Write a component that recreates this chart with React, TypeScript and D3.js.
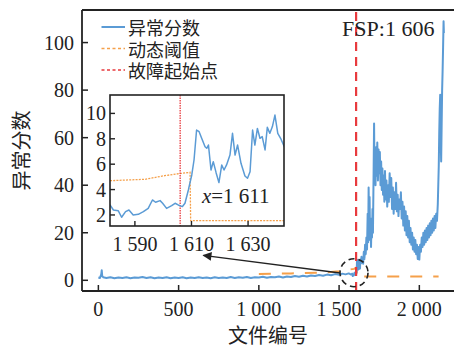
import React from "react";
import * as d3 from "d3";

const W = 454;
const H = 347;
const SERIF = "'Liberation Serif', 'Times New Roman', serif";
const CJK = "'Noto Sans CJK SC', 'Noto Sans CJK JP', sans-serif";

const BLUE = "#5b9bd5";
const ORANGE = "#f5a04a";
const RED = "#e83a3e";
const INK = "#222";

// anomaly score (file index, score)
const preFiles = [0, 10, 18, 21, 24, 30, 50, 75, 100, 125, 150, 175, 200, 225, 250, 275, 300, 325, 350, 375, 400, 425, 450, 475, 500, 525, 550, 575, 600, 625, 650, 675, 700, 725, 750, 775, 800, 825, 850, 875, 900, 925, 950, 975, 1000, 1025, 1050, 1075, 1100, 1125, 1150, 1175, 1200, 1225, 1250, 1275, 1300, 1325, 1350, 1375, 1400, 1425, 1450, 1475, 1500, 1520, 1540, 1560, 1575];
const preScores = [1.2, 1.0, 2.5, 4.2, 1.8, 1.3, 1.0, 1.3, 0.9, 1.2, 1.0, 1.3, 0.9, 1.2, 1.1, 1.4, 1.0, 1.3, 0.9, 1.2, 1.0, 1.3, 0.9, 1.2, 1.0, 1.3, 0.9, 1.2, 1.0, 1.3, 1.0, 1.2, 0.9, 1.3, 1.0, 1.2, 1.0, 1.4, 1.0, 1.3, 1.1, 1.4, 1.0, 1.3, 1.2, 1.5, 1.1, 1.4, 1.3, 1.6, 1.2, 1.6, 1.4, 1.8, 1.5, 1.9, 1.6, 2.0, 1.8, 2.2, 1.9, 2.4, 2.1, 2.6, 2.3, 2.8, 2.5, 2.9, 2.4];

const zoomFiles = [1581.2, 1582.4, 1584.1, 1585.3, 1586.7, 1587.9, 1589.4, 1591.2, 1593.0, 1594.7, 1596.2, 1597.3, 1598.9, 1599.8, 1601.2, 1603.0, 1604.2, 1605.3, 1606.8, 1607.7, 1608.9, 1610.1, 1610.9, 1611.8, 1612.7, 1613.6, 1614.8, 1615.4, 1616.0, 1616.9, 1617.7, 1618.7, 1619.7, 1620.7, 1621.5, 1622.4, 1623.6, 1624.5, 1625.4, 1626.3, 1627.5, 1628.9, 1629.8, 1630.7, 1631.6, 1632.4, 1633.3, 1634.2, 1635.0, 1636.0, 1636.8, 1637.7, 1638.6, 1639.5, 1640.5, 1641.5, 1642.8];
const zoomScores = [2.79, 2.39, 2.34, 1.82, 2.26, 2.39, 2.0, 2.05, 2.26, 2.52, 3.18, 3.0, 3.13, 2.92, 2.52, 2.73, 2.92, 2.79, 2.66, 2.92, 3.97, 5.15, 6.33, 8.69, 8.56, 8.04, 7.38, 7.25, 7.51, 5.54, 6.2, 5.33, 4.55, 5.94, 5.54, 5.94, 6.72, 8.43, 6.72, 7.51, 6.07, 5.07, 4.89, 5.41, 8.69, 7.51, 8.82, 8.04, 8.17, 7.12, 8.9, 8.43, 8.96, 9.87, 8.43, 8.04, 7.38];

const postFiles = [1646, 1650, 1654, 1658, 1662, 1666, 1670, 1674, 1678, 1681, 1684, 1687, 1690, 1693, 1696, 1699, 1702, 1705, 1708, 1711, 1715, 1718, 1721, 1724, 1727, 1730, 1734, 1738, 1742, 1746, 1750, 1754, 1758, 1762, 1766, 1770, 1774, 1778, 1782, 1786, 1790, 1795, 1800, 1805, 1810, 1815, 1820, 1825, 1830, 1835, 1840, 1845, 1850, 1855, 1860, 1865, 1870, 1875, 1880, 1885, 1890, 1895, 1900, 1905, 1910, 1915, 1920, 1925, 1930, 1935, 1940, 1945, 1950, 1955, 1960, 1965, 1970, 1975, 1980, 1985, 1990, 1995, 2000, 2005, 2010, 2015, 2020, 2025, 2030, 2035, 2040, 2045, 2050, 2055, 2060, 2065, 2070, 2075, 2080, 2085, 2090, 2095, 2100, 2105, 2110, 2115, 2118, 2121, 2124, 2127, 2130, 2133, 2136, 2139, 2142, 2145, 2148, 2151, 2153];
const postScores = [9.5, 7.0, 12, 9, 15, 11, 18, 13, 28, 16, 39, 22, 35, 17, 26, 14, 24, 18, 30, 20, 45, 66, 42, 52, 40, 56, 44, 58, 42, 55, 45, 54, 40, 50, 38, 47, 36, 44, 33, 46, 34, 42, 31, 40, 33, 45, 35, 43, 30, 39, 28, 37, 30, 41, 29, 36, 27, 34, 30, 37, 26, 33, 23, 31, 21, 29, 19, 27, 18, 25, 16, 22, 15, 20, 13, 18, 12, 17, 11, 15, 9, 14, 8.7, 15, 12, 18, 14, 20, 15, 21, 16, 22, 17, 23, 18, 24, 19, 25, 20, 26, 21, 27, 22, 28, 25, 32, 40, 48, 62, 72, 78, 60, 50, 65, 80, 88, 98, 109, 104];

// dynamic threshold
const thrFiles = [1000, 1200, 1400, 1500, 1581.2, 1593.6, 1600.6, 1606.5, 1609.5, 1609.7, 2120];
const thrValues = [2.7, 2.9, 3.2, 3.8, 4.7, 4.81, 5.1, 5.28, 5.36, 1.55, 1.55];

const faultStart = 1606;
const detectPoint = 1611;

const xTicks = [0, 500, 1000, 1500, 2000];
const xTickLabels = ["0", "500", "1 000", "1 500", "2 000"];
const yTicks = [0, 20, 40, 60, 80, 100];
const insetXTicks = [1590, 1610, 1630];
const insetXTickLabels = ["1 590", "1 610", "1 630"];
const insetYTicks = [2, 4, 6, 8, 10];
const legendLabels = ["异常分数", "动态阈值", "故障起始点"];

// annotation anchors in data units
const circleAt: [number, number] = [1593, 3.2];
const arrowFrom: [number, number] = [1506, 3.1];
const arrowTo: [number, number] = [654, 10.5];

const plot = { left: 82, right: 456, top: 10, bottom: 291 };
const inset = { left: 110, right: 284, top: 95, bottom: 226 };

const App = () => {
  const x = d3.scaleLinear().domain([-102, 2216]).range([plot.left, plot.left + 372]);
  const y = d3.scaleLinear().domain([-4.5, 113.7]).range([plot.bottom, plot.top]);
  const ix = d3.scaleLinear().domain([1581.2, 1642.7]).range([inset.left, inset.right]);
  const iy = d3.scaleLinear().domain([1.13, 11.45]).range([inset.bottom, inset.top]);

  const files = [...preFiles, ...zoomFiles, ...postFiles];
  const scores = [...preScores, ...zoomScores, ...postScores];
  const series = files.map((f, i) => [f, scores[i]] as [number, number]);
  const thr = thrFiles.map((f, i) => [f, thrValues[i]] as [number, number]);

  const line = d3.line<[number, number]>().x((d) => x(d[0])).y((d) => y(d[1]));
  const iline = d3.line<[number, number]>().x((d) => ix(d[0])).y((d) => iy(d[1]));
  const insetSeries = series.filter((d) => d[0] >= 1575 && d[0] <= 1650);

  const legendColors = [BLUE, ORANGE, RED];
  const legendDash = [undefined, "3 2.5", "3 2.5"];

  return (
    <svg width={W} height={H} viewBox={`0 0 ${W} ${H}`}
      style={{ position: "fixed", left: 0, top: 0, background: "#fff" }}>
      <defs>
        <clipPath id="main-clip">
          <rect x={plot.left} y={plot.top} width={plot.right - plot.left} height={plot.bottom - plot.top} />
        </clipPath>
        <clipPath id="inset-clip">
          <rect x={inset.left} y={inset.top} width={inset.right - inset.left} height={inset.bottom - inset.top} />
        </clipPath>
        <marker id="arrowhead" viewBox="0 0 10 10" refX="9" refY="5" markerWidth="13" markerHeight="9"
          markerUnits="userSpaceOnUse" orient="auto">
          <path d="M0,0 L10,5 L0,10 Z" fill={INK} />
        </marker>
      </defs>

      {/* main series */}
      <g clipPath="url(#main-clip)">
        <path d={line(thr) ?? ""} fill="none" stroke={ORANGE} strokeWidth={2} strokeDasharray="12 11" />
        <path d={line(series) ?? ""} fill="none" stroke={BLUE} strokeWidth={2} strokeLinejoin="round" />
        <line x1={x(faultStart)} x2={x(faultStart)} y1={plot.bottom} y2={plot.top}
          stroke={RED} strokeWidth={2.2} strokeDasharray="9 6" />
      </g>

      {/* frame */}
      <g stroke={INK} strokeWidth={1.8} fill="none">
        <line x1={plot.left} x2={plot.left} y1={plot.top} y2={plot.bottom} />
        <line x1={plot.left} x2={plot.right} y1={plot.bottom} y2={plot.bottom} />
        <line x1={plot.left} x2={plot.right} y1={plot.top} y2={plot.top} />
      </g>

      {/* y axis */}
      {yTicks.map((t) => (
        <g key={`y${t}`}>
          <line x1={plot.left} x2={plot.left + 6} y1={y(t)} y2={y(t)} stroke={INK} strokeWidth={1.5} />
          <text x={plot.left - 8} y={y(t)} textAnchor="end" dominantBaseline="central"
            fontFamily={SERIF} fontSize={20} fill={INK}>{t}</text>
        </g>
      ))}
      {/* x axis */}
      {xTicks.map((t, i) => (
        <g key={`x${t}`}>
          <line x1={x(t)} x2={x(t)} y1={plot.bottom} y2={plot.bottom - 6} stroke={INK} strokeWidth={1.5} />
          <text x={x(t)} y={plot.bottom + 18} textAnchor="middle" dominantBaseline="central"
            fontFamily={SERIF} fontSize={20} fill={INK}>{xTickLabels[i]}</text>
        </g>
      ))}
      <text x={(plot.left + 454) / 2} y={334} textAnchor="middle" dominantBaseline="central"
        fontFamily={CJK} fontSize={20} fill={INK}>文件编号</text>
      <text transform={`translate(20, ${(plot.top + plot.bottom) / 2}) rotate(-90)`} textAnchor="middle"
        dominantBaseline="central" fontFamily={CJK} fontSize={20} fill={INK}>异常分数</text>

      {/* legend */}
      {legendLabels.map((lab, i) => {
        const ly = [27, 48.5, 70][i];
        return (
          <g key={lab}>
            <line x1={101.5} x2={125} y1={ly} y2={ly} stroke={legendColors[i]}
              strokeWidth={i === 0 ? 2 : 1.6} strokeDasharray={legendDash[i]} />
            <text x={128} y={ly} dominantBaseline="central" fontFamily={CJK} fontSize={18} fill={INK}>{lab}</text>
          </g>
        );
      })}

      <text x={x(faultStart) - 14} y={36} fontFamily={SERIF} fontSize={22} fill={INK}>FSP:1 606</text>

      {/* annotation */}
      <circle cx={x(circleAt[0])} cy={y(circleAt[1])} r={14} fill="none" stroke={INK}
        strokeWidth={1.6} strokeDasharray="6 4" />
      <line x1={x(arrowFrom[0])} y1={y(arrowFrom[1])} x2={x(arrowTo[0])} y2={y(arrowTo[1])}
        stroke={INK} strokeWidth={1.4} markerEnd="url(#arrowhead)" />

      {/* inset */}
      <rect x={inset.left} y={inset.top} width={inset.right - inset.left} height={inset.bottom - inset.top}
        fill="#fff" />
      <g clipPath="url(#inset-clip)">
        <path d={iline(thr.filter((d) => d[0] >= 1575)) ?? ""} fill="none" stroke={ORANGE}
          strokeWidth={1.3} strokeDasharray="2 1.2" />
        <line x1={ix(faultStart)} x2={ix(faultStart)} y1={inset.top} y2={inset.bottom}
          stroke={RED} strokeWidth={1.3} strokeDasharray="1.5 1" />
        <path d={iline(insetSeries) ?? ""} fill="none" stroke={BLUE} strokeWidth={1.5} strokeLinejoin="round" />
      </g>
      <rect x={inset.left} y={inset.top} width={inset.right - inset.left} height={inset.bottom - inset.top}
        fill="none" stroke={INK} strokeWidth={1.6} />
      {insetYTicks.map((t) => (
        <g key={`iy${t}`}>
          <line x1={inset.left} x2={inset.left + 5} y1={iy(t)} y2={iy(t)} stroke={INK} strokeWidth={1.4} />
          <text x={inset.left - 4} y={iy(t)} textAnchor="end" dominantBaseline="central"
            fontFamily={SERIF} fontSize={20} fill={INK}>{t}</text>
        </g>
      ))}
      {insetXTicks.map((t, i) => (
        <g key={`ix${t}`}>
          <line x1={ix(t)} x2={ix(t)} y1={inset.bottom} y2={inset.bottom - 5} stroke={INK} strokeWidth={1.4} />
          <text x={ix(t)} y={inset.bottom + 18} textAnchor="middle" dominantBaseline="central"
            fontFamily={SERIF} fontSize={20} fill={INK}>{insetXTickLabels[i]}</text>
        </g>
      ))}
      <text x={ix(1613.7)} y={iy(2.95)} fontFamily={SERIF} fontSize={21} fill={INK}>
        <tspan fontStyle="italic">x</tspan>=1 {detectPoint - 1000}
      </text>
    </svg>
  );
};

export default App;
